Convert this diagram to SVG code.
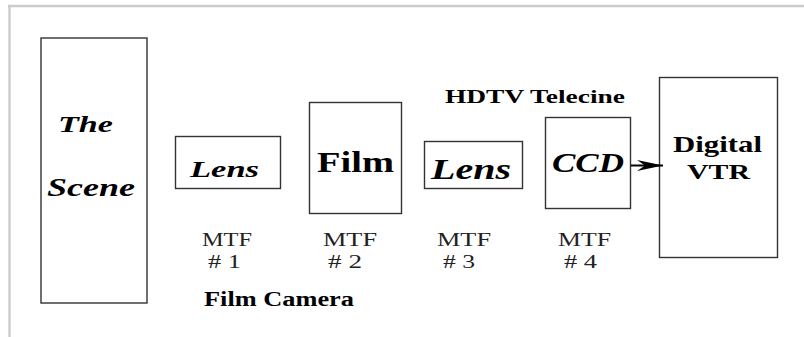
<svg xmlns="http://www.w3.org/2000/svg" width="804" height="337" viewBox="0 0 804 337">
<style>
.box{fill:#fff;stroke:#333;stroke-width:1.4}
.bi{font-weight:bold;font-style:italic;fill:#000}
.b{font-weight:bold;fill:#000}
.r{fill:#222;font-size:18px}
</style>
<defs>
<marker id="ah" markerWidth="26" markerHeight="14" refX="26" refY="7" orient="auto" markerUnits="userSpaceOnUse">
<path d="M0,1.5 L26,7 L0,12.5 L8,7 Z" fill="#000"/>
</marker>
</defs>
<rect width="804" height="337" fill="#fff"/>
<g id="frame" fill="none" stroke="#cccccc" stroke-width="2.4">
<line x1="8" y1="6" x2="804" y2="6"/>
<line x1="9.5" y1="6" x2="9.5" y2="337"/>
</g>
<g font-family="Liberation Serif, Times New Roman, serif">
<g id="scene">
<rect class="box" x="41" y="38" width="106" height="265"/>
<text class="bi" x="58" y="132" font-size="24" textLength="55" lengthAdjust="spacingAndGlyphs">The</text>
<text class="bi" x="47" y="196" font-size="25" textLength="88" lengthAdjust="spacingAndGlyphs">Scene</text>
</g>
<g id="lens1">
<rect class="box" x="175.5" y="136.5" width="105" height="52"/>
<text class="bi" x="190" y="177" font-size="24" textLength="69" lengthAdjust="spacingAndGlyphs">Lens</text>
</g>
<g id="film">
<rect class="box" x="309.5" y="102.5" width="92" height="111"/>
<text class="b" x="317" y="172" font-size="30" textLength="77" lengthAdjust="spacingAndGlyphs">Film</text>
</g>
<g id="lens2">
<rect class="box" x="424.5" y="141.5" width="98" height="47"/>
<text class="bi" x="431" y="179" font-size="29" textLength="80" lengthAdjust="spacingAndGlyphs">Lens</text>
</g>
<g id="ccd">
<rect class="box" x="545.5" y="117.5" width="85" height="91"/>
<text class="bi" x="552" y="172" font-size="28" textLength="72" lengthAdjust="spacingAndGlyphs">CCD</text>
</g>
<g id="vtr">
<rect class="box" x="659.5" y="77.5" width="118" height="180"/>
<text class="b" x="673" y="152" font-size="23" textLength="89" lengthAdjust="spacingAndGlyphs">Digital</text>
<text class="b" x="687" y="179" font-size="22" textLength="63" lengthAdjust="spacingAndGlyphs">VTR</text>
</g>
<g id="connectors">
<line x1="631" y1="165.5" x2="663" y2="165.5" stroke="#000" stroke-width="2" marker-end="url(#ah)"/>
</g>
<g id="labels">
<text class="b" x="445" y="103" font-size="19" textLength="180" lengthAdjust="spacingAndGlyphs">HDTV Telecine</text>
<text class="b" x="204" y="306" font-size="20" textLength="150" lengthAdjust="spacingAndGlyphs">Film Camera</text>
<text class="r" x="202" y="246" textLength="50" lengthAdjust="spacingAndGlyphs">MTF</text>
<text class="r" x="208" y="268" textLength="33" lengthAdjust="spacingAndGlyphs"># 1</text>
<text class="r" x="323" y="246" textLength="54" lengthAdjust="spacingAndGlyphs">MTF</text>
<text class="r" x="328" y="268" textLength="34" lengthAdjust="spacingAndGlyphs"># 2</text>
<text class="r" x="437" y="246" textLength="54" lengthAdjust="spacingAndGlyphs">MTF</text>
<text class="r" x="443" y="268" textLength="32" lengthAdjust="spacingAndGlyphs"># 3</text>
<text class="r" x="558" y="246" textLength="53" lengthAdjust="spacingAndGlyphs">MTF</text>
<text class="r" x="564" y="268" textLength="33" lengthAdjust="spacingAndGlyphs"># 4</text>
</g>
</g>
</svg>
